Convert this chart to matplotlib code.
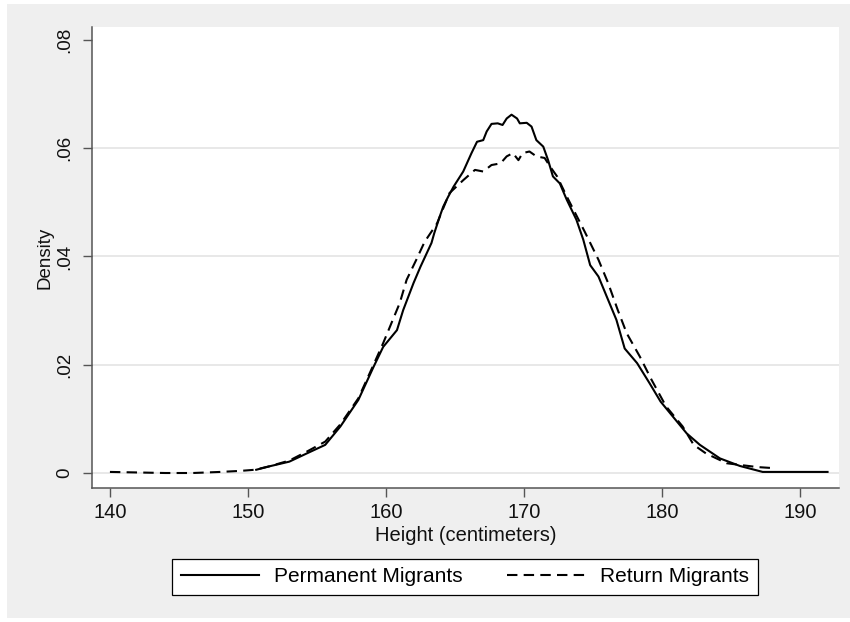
import numpy as np
import matplotlib
matplotlib.use("Agg")
import matplotlib.pyplot as plt
from matplotlib.patches import Rectangle
from matplotlib.lines import Line2D

plt.rcParams['font.family'] = ['Liberation Sans', 'DejaVu Sans']

# Kernel density of height
perm_x = [150.6, 151.5, 153.0, 154.25, 155.6, 156.7, 158.0, 159.1, 159.8, 160.8,
          161.25, 162.0, 162.5, 163.3, 163.5, 163.9, 164.15, 164.5, 164.9, 165.6,
          166.2, 166.6, 167.05, 167.3, 167.65, 168.1, 168.45, 168.75, 169.1, 169.5,
          169.7, 170.2, 170.55, 170.9, 171.4, 171.75, 172.1, 172.6, 173.1, 173.8,
          174.3, 174.8, 175.4, 176.0, 176.7, 177.3, 178.2, 179.1, 179.9, 180.8,
          181.8, 182.75, 184.2, 185.65, 187.3, 190.0, 192.0]
perm_y = [0.0006, 0.0012, 0.0021, 0.0036, 0.0052, 0.0086, 0.0135, 0.0196, 0.0233, 0.0264,
          0.0301, 0.0351, 0.0381, 0.0425, 0.0443, 0.0474, 0.0492, 0.0510, 0.0529, 0.0557,
          0.0591, 0.0612, 0.0615, 0.0631, 0.0645, 0.0646, 0.0643, 0.0655, 0.0662, 0.0655,
          0.0646, 0.0647, 0.0640, 0.0615, 0.0603, 0.0578, 0.0548, 0.0535, 0.0505, 0.0468,
          0.0431, 0.0384, 0.0363, 0.0326, 0.0283, 0.0230, 0.0203, 0.0166, 0.0132, 0.0104,
          0.0073, 0.0052, 0.0027, 0.0013, 0.0002, 0.0002, 0.0002]

ret_x = [140.0, 142.0, 144.0, 146.0, 148.0, 149.5, 150.5, 151.5, 153.0, 154.3,
         155.6, 156.7, 158.0, 159.1, 159.8, 161.0, 161.5, 162.2, 162.8, 163.7,
         164.6, 165.6, 166.45, 167.05, 167.65, 168.3, 168.75, 169.2, 169.6, 169.9,
         170.4, 170.9, 171.5, 171.9, 172.4, 173.1, 173.6, 174.4, 175.4, 176.1,
         176.8, 177.45, 178.4, 179.25, 180.3, 181.5, 182.3, 183.2, 184.7, 186.9, 188.1]
ret_y = [0.0002, 0.0001, 0.0000, 0.0000, 0.0002, 0.0004, 0.0006, 0.0012, 0.0023, 0.0040,
         0.0058, 0.0090, 0.0138, 0.0200, 0.0240, 0.0314, 0.0357, 0.0394, 0.0427, 0.0461,
         0.0517, 0.0541, 0.0560, 0.0557, 0.0569, 0.0572, 0.0585, 0.0591, 0.0578, 0.0591,
         0.0594, 0.0585, 0.0582, 0.0566, 0.0548, 0.0511, 0.0486, 0.0446, 0.0394, 0.0351,
         0.0301, 0.0258, 0.0215, 0.0172, 0.0123, 0.0086, 0.0052, 0.0036, 0.0018, 0.0011, 0.0009]

x_ticks = [140, 150, 160, 170, 180, 190]
y_ticks = [0, 0.02, 0.04, 0.06, 0.08]
y_tick_labels = ['0', '.02', '.04', '.06', '.08']
grid_levels = [0, 0.02, 0.04, 0.06]

# colours
bg_gray = '#efefef'
axis_color = '#555555'
grid_color = '#e6e6e6'

fig = plt.figure(figsize=(8.5, 6.22), dpi=100)
fig.patch.set_facecolor('white')
# the gray stata background, with a thin white strip at the edges
fig.patches.append(Rectangle((7 / 850, 4 / 622), 843 / 850, 614 / 622,
                             transform=fig.transFigure, facecolor=bg_gray,
                             edgecolor='none', zorder=-10))

ax = fig.add_axes([92 / 850, 1 - 488 / 622, 747 / 850, 461 / 622])
ax.set_facecolor('white')
ax.set_zorder(1)

for g in grid_levels:
    ax.axhline(g, color=grid_color, lw=1.3, zorder=1)

ax.plot(perm_x, perm_y, color='black', lw=1.5, zorder=3, label='Permanent Migrants')
ax.plot(ret_x, ret_y, color='black', lw=1.5, dashes=(5, 3), zorder=3,
        label='Return Migrants')

ax.set_xlim(138.7, 192.83)
ax.set_ylim(-0.00277, 0.0824)

ax.set_xticks(x_ticks)
ax.set_yticks(y_ticks)
ax.set_yticklabels(y_tick_labels)

ax.spines[['top', 'right']].set_visible(False)
for s in ['left', 'bottom']:
    ax.spines[s].set_color(axis_color)
    ax.spines[s].set_linewidth(1.1)

ax.tick_params(axis='both', direction='out', length=6.5, width=1.0, color=axis_color,
               labelcolor='#111111')
ax.tick_params(axis='x', labelsize=14.5, pad=4)
ax.tick_params(axis='y', labelsize=13.5, pad=7)
for lab in ax.get_yticklabels():
    lab.set_rotation(90)
    lab.set_va('center')
    lab.set_ha('right')

ax.set_xlabel('Height (centimeters)', fontsize=14.5, color='#111111')
ax.xaxis.set_label_coords(0.5, -0.083)
ax.set_ylabel('Density', fontsize=13.5, color='#111111')
ax.yaxis.set_label_coords(-0.052, 0.5)

handles = [Line2D([], [], color='black', lw=1.5),
           Line2D([], [], color='black', lw=1.5, dashes=(5, 3))]
leg = fig.legend(handles, ['Permanent Migrants', 'Return Migrants'],
                 loc='center', bbox_to_anchor=(465 / 850, 1 - 577 / 622), ncol=2,
                 fontsize=15, frameon=True, fancybox=False, edgecolor='black',
                 framealpha=1, handlelength=3.75, handletextpad=0.7,
                 columnspacing=2.15, borderpad=0.42, borderaxespad=0)
leg.get_frame().set_linewidth(0.9)
leg.get_frame().set_facecolor('white')

plt.savefig('out.png', dpi=100, facecolor=fig.get_facecolor())
